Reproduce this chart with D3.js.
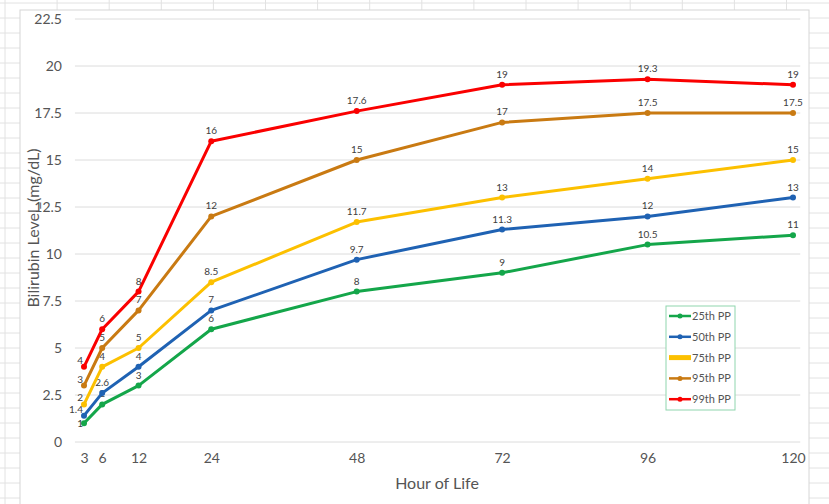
<!DOCTYPE html>
<html><head><meta charset="utf-8">
<script src="https://cdn.jsdelivr.net/npm/d3@7"></script>
<style>html,body{margin:0;padding:0;background:#fff;}svg{display:block;}</style>
</head><body>
<svg id="c" width="829" height="504"></svg>
<script>
const hours = [3, 6, 12, 24, 48, 72, 96, 120];
const xTicks = [3, 6, 12, 24, 48, 72, 96, 120];
const yTicks = [0, 2.5, 5, 7.5, 10, 12.5, 15, 17.5, 20, 22.5];
const seriesNames = ["25th PP", "50th PP", "75th PP", "95th PP", "99th PP"];
const p25 = [1, 2, 3, 6, 8, 9, 10.5, 11];
const p50 = [1.4, 2.6, 4, 7, 9.7, 11.3, 12, 13];
const p75 = [2, 4, 5, 8.5, 11.7, 13, 14, 15];
const p95 = [3, 5, 7, 12, 15, 17, 17.5, 17.5];
const p99 = [4, 6, 8, 16, 17.6, 19, 19.3, 19];
const seriesValues = [p25, p50, p75, p95, p99];
const colors = ["#14a64a", "#1f62b3", "#fcc000", "#c97a12", "#fa0000"];

const svg = d3.select("#c");
const W = 829, H = 504;
const font = "Lato, 'Open Sans', sans-serif";

// spreadsheet grid background
const bg = svg.append("g");
for (let x = 5; x < W; x += 52.1) bg.append("line").attr("x1", x).attr("x2", x).attr("y1", 0).attr("y2", H).attr("stroke", "#e2e2e2");
for (let y = 3; y < H; y += 15) bg.append("line").attr("x1", 0).attr("x2", W).attr("y1", y).attr("y2", y).attr("stroke", "#e2e2e2");

// chart area
svg.append("rect").attr("x", 20).attr("y", 10).attr("width", 789).attr("height", 520)
  .attr("fill", "#fff").attr("stroke", "#d6d6d6");

const x = d3.scaleLinear().domain([3, 120]).range([84, 793]);
const y = d3.scaleLinear().domain([0, 22.5]).range([442, 19]);

// gridlines
svg.append("g").selectAll("line").data(yTicks).join("line")
  .attr("x1", x(1.5)).attr("x2", x(121.2))
  .attr("y1", d => y(d)).attr("y2", d => y(d))
  .attr("stroke", "#dcdcdc").attr("stroke-width", 1);

// y axis labels
const yAxis = d3.axisLeft(y).tickValues(yTicks).tickSize(0).tickPadding(0).tickFormat(d => String(d));
const gy = svg.append("g").attr("transform", "translate(62,0)").call(yAxis);
gy.select(".domain").remove();
gy.selectAll("text").attr("font-family", font).attr("font-size", 14).attr("fill", "#555");

// x axis labels
const xAxis = d3.axisBottom(x).tickValues(xTicks).tickSize(0).tickPadding(0).tickFormat(d => String(d));
const gx = svg.append("g").attr("transform", "translate(0,453)").call(xAxis);
gx.select(".domain").remove();
gx.selectAll("text").attr("font-family", font).attr("font-size", 14).attr("fill", "#555");

// axis titles
svg.append("text").attr("x", 437).attr("y", 489).attr("text-anchor", "middle")
  .attr("font-family", font).attr("font-size", 16).attr("fill", "#555").text("Hour of Life");
svg.append("text").attr("transform", "translate(39,228) rotate(-90)").attr("text-anchor", "middle")
  .attr("font-family", font).attr("font-size", 16).attr("fill", "#555").text("Bilirubin Level_(mg/dL)");

const line = d3.line().x((d, i) => x(hours[i])).y(d => y(d));

seriesValues.forEach((vals, s) => {
  const g = svg.append("g");
  g.append("path").datum(vals).attr("d", line).attr("fill", "none")
    .attr("stroke", colors[s]).attr("stroke-width", 3).attr("stroke-linejoin", "round");
  g.selectAll("circle").data(vals).join("circle")
    .attr("cx", (d, i) => x(hours[i])).attr("cy", d => y(d)).attr("r", 3).attr("fill", colors[s]);
  g.selectAll("text").data(vals).join("text")
    .attr("x", (d, i) => i === 0 ? x(hours[i]) - 1 : x(hours[i]))
    .attr("y", (d, i) => i === 0 ? y(d) + (s === 0 ? 4 : -3) : y(d) - 7)
    .attr("text-anchor", (d, i) => i === 0 ? "end" : "middle")
    .attr("font-family", font).attr("font-size", 10).attr("fill", "#404040")
    .text(d => String(d));
});

// legend
const lg = svg.append("g");
lg.append("rect").attr("x", 666).attr("y", 306).attr("width", 69).attr("height", 104)
  .attr("fill", "#fff").attr("stroke", "#8fd5ae").attr("stroke-width", 1);
seriesNames.forEach((n, s) => {
  const ly = 316 + s * 20.8;
  lg.append("line").attr("x1", 669).attr("x2", 691).attr("y1", ly).attr("y2", ly)
    .attr("stroke", colors[s]).attr("stroke-width", s === 2 ? 5 : 2.5);
  if (s !== 2) lg.append("circle").attr("cx", 680).attr("cy", ly).attr("r", 2.5).attr("fill", colors[s]);
  lg.append("text").attr("x", 692).attr("y", ly + 4).attr("font-family", font).attr("font-size", 11)
    .attr("fill", "#555").text(n);
});
</script>
</body></html>
